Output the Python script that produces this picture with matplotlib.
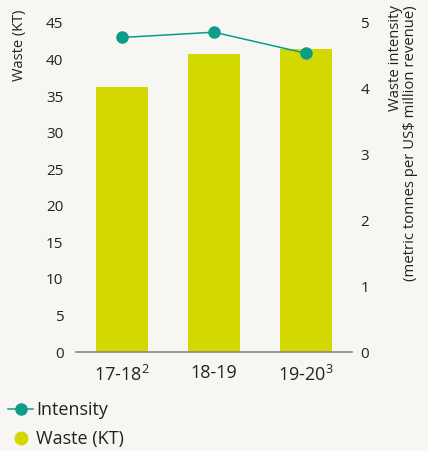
import numpy as np
import matplotlib.pyplot as plt
from matplotlib.lines import Line2D

plt.rcParams['font.family'] = ['Open Sans', 'DejaVu Sans']
plt.rcParams['mathtext.fontset'] = 'custom'
plt.rcParams['mathtext.rm'] = 'Open Sans'

# data
years = ['17-18$^2$', '18-19', '19-20$^3$']
waste_kt = [36.2, 40.8, 41.4]
intensity = [4.78, 4.86, 4.54]

bar_color = '#d3d800'
line_color = '#0b9d87'
txt = '#222222'
bg = '#f7f6f3'

fig = plt.figure(figsize=(4.28, 4.51), dpi=100, facecolor=bg)
ax = fig.add_axes([76/428, 1 - 352/451, 276/428, 329/451])
ax.set_facecolor(bg)

x = np.arange(len(years))
ax.bar(x, waste_kt, width=0.565, color=bar_color, zorder=2)
ax.set_xlim(-0.5, 2.5)
ax.set_ylim(0, 45)
ax.set_yticks(np.arange(0, 46, 5))
ax.set_xticks(x)
ax.set_xticklabels(years, fontsize=13, color=txt)
ax.tick_params(axis='both', length=0)
ax.tick_params(axis='y', labelsize=11, colors=txt, pad=9)
ax.tick_params(axis='x', pad=9)
for s in ['top', 'left', 'right']:
    ax.spines[s].set_visible(False)
ax.spines['bottom'].set_color('#888888')
ax.spines['bottom'].set_linewidth(1.2)

# intensity on secondary axis
ax2 = ax.twinx()
ax2.plot(x, intensity, color=line_color, lw=1.1, marker='o', ms=8, zorder=3)
ax2.set_ylim(0, 5)
ax2.set_yticks(range(6))
ax2.tick_params(axis='y', length=0, labelsize=11, colors=txt, pad=6)
for s in ['top', 'left', 'right', 'bottom']:
    ax2.spines[s].set_visible(False)

# axis titles
fig.text(20/428, 1 - 45/451, 'Waste (KT)', rotation=90, ha='center',
         va='center', fontsize=10.5, color=txt)
fig.text(403/428, 1 - 5/451,
         'Waste intensity\n(metric tonnes per US$ million revenue)',
         rotation=90, ha='center', va='top', multialignment='right',
         fontsize=10.7, color=txt, linespacing=1.0)

handles = [
    Line2D([], [], color=line_color, marker='o', ms=8, lw=1.1),
    Line2D([], [], color=bar_color, marker='o', ms=9, lw=0),
]
fig.legend(handles, ['Intensity', 'Waste (KT)'], loc='upper left',
           bbox_to_anchor=(8/428, 1 - 401/451), frameon=False, fontsize=13,
           handlelength=1.4, handletextpad=0.15, labelspacing=0.62,
           borderpad=0, borderaxespad=0, labelcolor=txt)

fig.savefig('out.png', dpi=100, facecolor=bg)
